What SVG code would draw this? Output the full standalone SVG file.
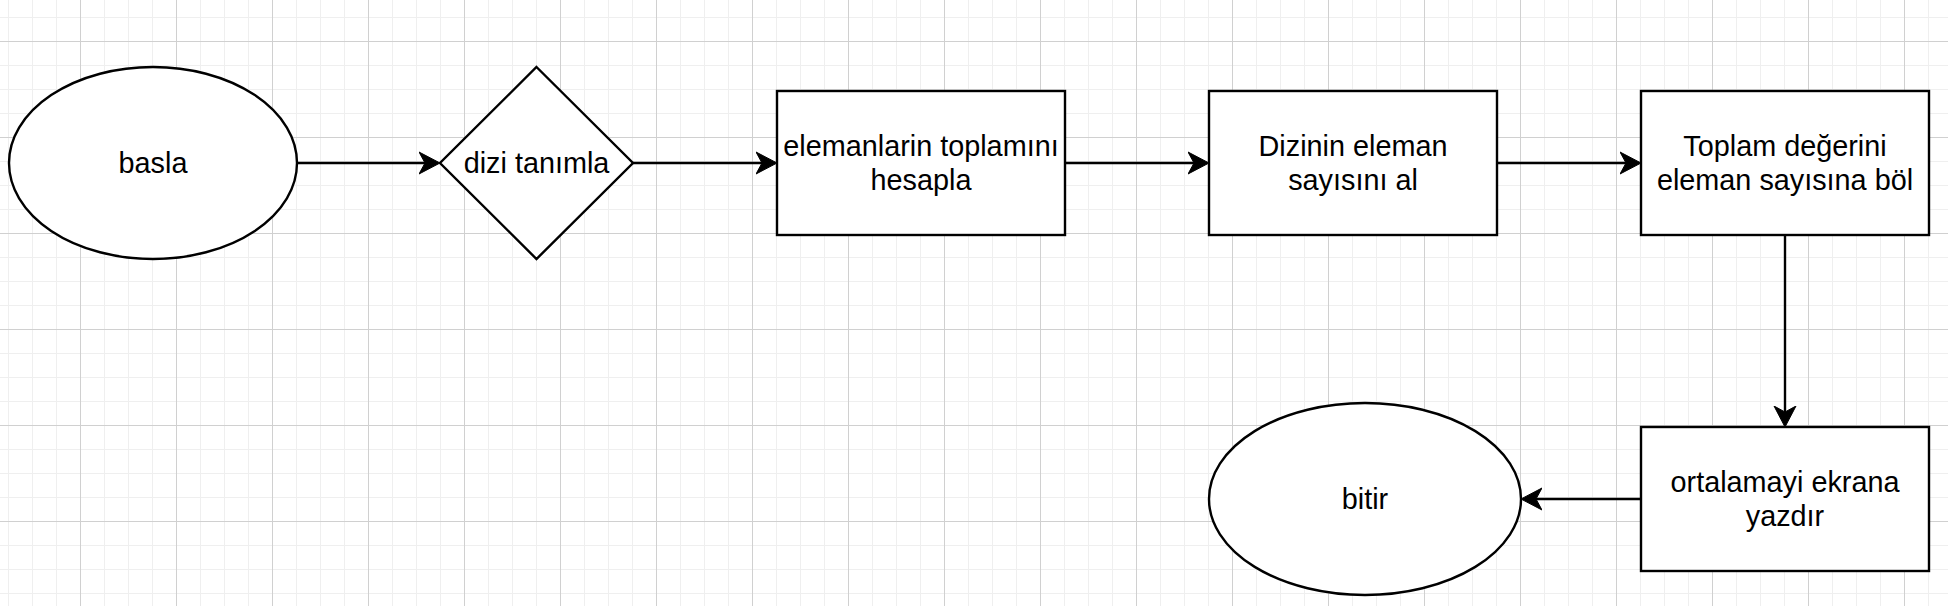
<svg xmlns="http://www.w3.org/2000/svg" width="1948" height="606" viewBox="0 0 1948 606">
<defs>
<style>
.shape{fill:#ffffff;stroke:#000000;stroke-width:2.4}
.lbl{font-family:"Liberation Sans",Arial,Helvetica,sans-serif;font-size:28.8px;fill:#000000;text-anchor:middle}
.edge{fill:none;stroke:#000000;stroke-width:2.4}
</style>
<pattern id="grid" patternUnits="userSpaceOnUse" x="80" y="41" width="96" height="96">
<rect x="24" y="0" width="1" height="96" fill="#efefef"/>
<rect x="48" y="0" width="1" height="96" fill="#efefef"/>
<rect x="72" y="0" width="1" height="96" fill="#efefef"/>
<rect x="0" y="24" width="96" height="1" fill="#efefef"/>
<rect x="0" y="48" width="96" height="1" fill="#efefef"/>
<rect x="0" y="72" width="96" height="1" fill="#efefef"/>
<rect x="0" y="0" width="1" height="96" fill="#d0d0d0"/>
<rect x="0" y="0" width="96" height="1" fill="#d0d0d0"/>
</pattern>
<marker id="arr" markerUnits="userSpaceOnUse" markerWidth="24" markerHeight="26" viewBox="0 0 24 26" refX="6" refY="13" orient="auto">
<path d="M21,13 L0,2 L6,13 L0,24 Z" fill="#000000" stroke="#000000" stroke-width="1" stroke-linejoin="miter"/>
</marker>
</defs>
<rect x="0" y="0" width="1948" height="606" fill="#ffffff"/>
<rect x="0" y="0" width="1948" height="606" fill="url(#grid)"/>

<g id="connectors">
<line class="edge" x1="297" y1="163" x2="425" y2="163" marker-end="url(#arr)"/>
<line class="edge" x1="633" y1="163" x2="762" y2="163" marker-end="url(#arr)"/>
<line class="edge" x1="1065" y1="163" x2="1194" y2="163" marker-end="url(#arr)"/>
<line class="edge" x1="1497" y1="163" x2="1626" y2="163" marker-end="url(#arr)"/>
<line class="edge" x1="1785" y1="235" x2="1785" y2="412" marker-end="url(#arr)"/>
<line class="edge" x1="1641" y1="499" x2="1536" y2="499" marker-end="url(#arr)"/>
</g>

<g id="node-basla">
<ellipse class="shape" cx="153" cy="163" rx="144" ry="96"/>
<text class="lbl" x="153" y="172.9">basla</text>
</g>

<g id="node-dizi">
<polygon class="shape" points="536.5,67 633,163 536.5,259 440,163"/>
<text class="lbl" x="536.5" y="172.9">dizi tanımla</text>
</g>

<g id="node-toplam">
<rect class="shape" x="777" y="91" width="288" height="144"/>
<text class="lbl" x="921" y="155.7">elemanlarin toplamını</text>
<text class="lbl" x="921" y="190.3">hesapla</text>
</g>

<g id="node-sayi">
<rect class="shape" x="1209" y="91" width="288" height="144"/>
<text class="lbl" x="1353" y="155.7">Dizinin eleman</text>
<text class="lbl" x="1353" y="190.3">sayısını al</text>
</g>

<g id="node-bol">
<rect class="shape" x="1641" y="91" width="288" height="144"/>
<text class="lbl" x="1785" y="155.7">Toplam değerini</text>
<text class="lbl" x="1785" y="190.3">eleman sayısına böl</text>
</g>

<g id="node-yazdir">
<rect class="shape" x="1641" y="427" width="288" height="144"/>
<text class="lbl" x="1785" y="491.7">ortalamayi ekrana</text>
<text class="lbl" x="1785" y="526.3">yazdır</text>
</g>

<g id="node-bitir">
<ellipse class="shape" cx="1365" cy="499" rx="156" ry="96"/>
<text class="lbl" x="1365" y="508.9">bitir</text>
</g>
</svg>
